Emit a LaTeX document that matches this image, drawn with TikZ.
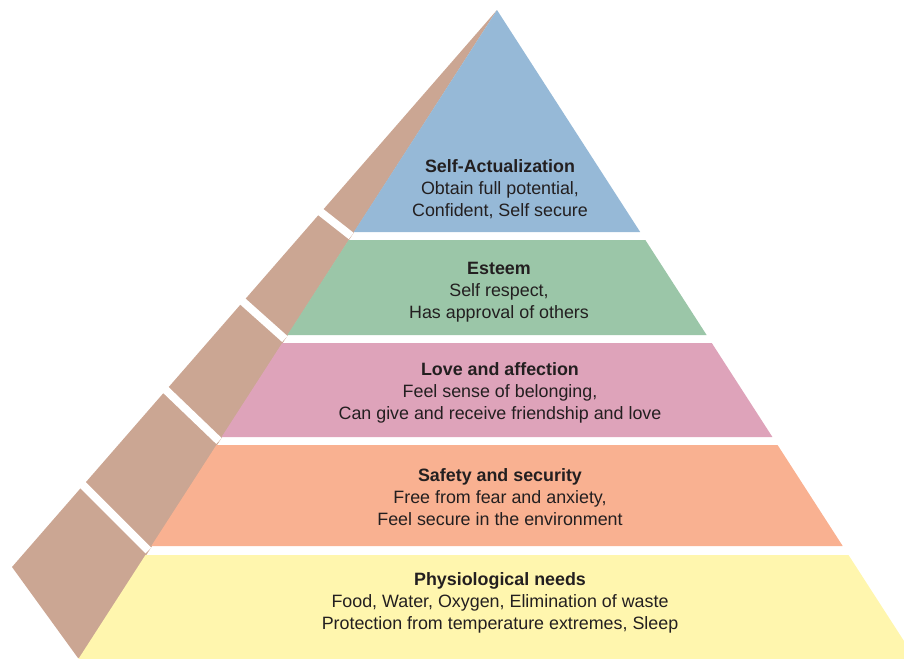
\documentclass[tikz,border=0pt]{standalone}
\usepackage{fontspec}
\setmainfont{Liberation Sans}
\definecolor{cblue}{RGB}{150,185,215}
\definecolor{cgreen}{RGB}{155,198,168}
\definecolor{cpink}{RGB}{222,163,186}
\definecolor{corange}{RGB}{249,177,145}
\definecolor{cyellow}{RGB}{255,246,174}
\definecolor{cbrown}{RGB}{203,166,147}
\definecolor{ctext}{RGB}{35,31,32}
\begin{document}
\begin{tikzpicture}[x=0.75pt,y=-0.75pt,
  lbl/.style={align=center,text=ctext,font=\fontsize{13.4}{16.5}\selectfont,inner sep=0pt},
  sep/.style={white,line width=6pt}]
\useasboundingbox (0,0) rectangle (904,658);
\pgfmathsetmacro{\ax}{497}
\pgfmathsetmacro{\k}{0.645}
% side face
\fill[cbrown] (\ax,10) -- (12,567) -- (78,658) -- (80,658) -- cycle;
% separators
\coordinate (s1) at ({\ax-\k*226},236);
\coordinate (s2) at ({\ax-\k*329},339);
\coordinate (s3) at ({\ax-\k*431},441);
\coordinate (s4) at ({\ax-\k*540.5},550.5);
\draw[sep] (s1) -- ++(-42,-33);
\draw[sep] (s2) -- ++(-56,-50);
\draw[sep] (s3) -- ++(-74,-71);
\draw[sep] (s4) -- ++(-91,-91);
% front layers
\fill[cblue] (\ax,10) -- ({\ax+\k*222},232) -- ({\ax-\k*222},232) -- cycle;
\fill[cgreen] ({\ax-\k*230},240) -- ({\ax+\k*230},240) -- ({\ax+\k*325},335) -- ({\ax-\k*325},335) -- cycle;
\fill[cpink] ({\ax-\k*333},343) -- ({\ax+\k*333},343) -- ({\ax+\k*427},437) -- ({\ax-\k*427},437) -- cycle;
\fill[corange] ({\ax-\k*435},445) -- ({\ax+\k*435},445) -- ({\ax+\k*536},546) -- ({\ax-\k*536},546) -- cycle;
\fill[cyellow] ({\ax-\k*545},555) -- ({\ax+\k*545},555) -- ({\ax+\k*650},660) -- ({\ax-\k*650},660) -- cycle;
% labels
\node[lbl] (t1) at (500,189) {\textbf{Self-Actualization}\\Obtain full potential,\\Confident, Self secure};
\node[lbl] (t2) at (499,292) {\textbf{Esteem}\\Self respect,\\Has approval of others};
\node[lbl] (t3) at (500,393) {\textbf{Love and affection}\\Feel sense of belonging,\\Can give and receive friendship and love};
\node[lbl] (t4) at (500,497) {\textbf{Safety and security}\\Free from fear and anxiety,\\Feel secure in the environment};
\node[lbl] (t5) at (500,603) {\textbf{Physiological needs}\\Food, Water, Oxygen, Elimination of waste\\Protection from temperature extremes, Sleep};
\end{tikzpicture}
\end{document}
